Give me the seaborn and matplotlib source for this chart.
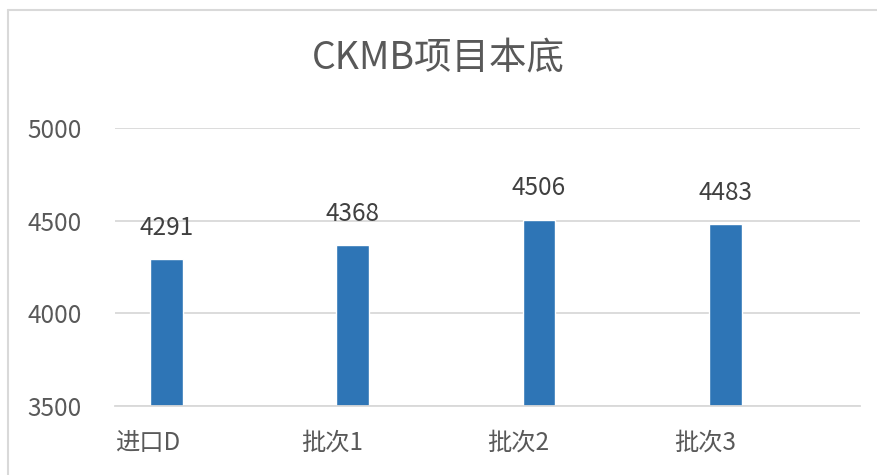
import matplotlib
matplotlib.use("Agg")
import matplotlib.pyplot as plt
from matplotlib.lines import Line2D
import pandas as pd
import seaborn as sns

sns.set_style("white")
plt.rcParams['font.family'] = ['Noto Sans CJK SC', 'DejaVu Sans']

categories = ["进口D", "批次1", "批次2", "批次3"]
values = [4291, 4368, 4506, 4483]
y_ticks = [3500, 4000, 4500, 5000]

bar_color = "#2E75B6"
text_color = "#595959"
grid_color = "#D9D9D9"

df = pd.DataFrame({"batch": categories, "value": values})

fig = plt.figure(figsize=(8.77, 4.75), dpi=100)
ax = fig.add_axes([115 / 877, 1 - 406 / 475, 745 / 877, 278 / 475])

sns.barplot(x="batch", y="value", data=df, color=bar_color, width=0.177,
            saturation=1, ax=ax)

# bars sit at the left part of each category slot (Excel style)
offset = 0.2765
ax.set_xlim(-offset, len(categories) - offset)
ax.set_ylim(y_ticks[0], y_ticks[-1])
ax.set_yticks(y_ticks)
ax.set_xticks([i - offset for i in range(len(categories))])
ax.set_xticklabels(categories, ha="left")

ax.yaxis.grid(True, color=grid_color, linewidth=1.3)
ax.set_axisbelow(True)
for side in ["top", "left", "right"]:
  ax.spines[side].set_visible(False)
ax.spines["bottom"].set_color(grid_color)
ax.spines["bottom"].set_linewidth(1.3)

ax.tick_params(axis="y", length=0, pad=24, labelsize=17.5, labelcolor=text_color)
ax.tick_params(axis="x", length=0, pad=17, labelsize=17.5, labelcolor=text_color)
ax.set_xlabel("")
ax.set_ylabel("")

for i, v in enumerate(values):
  ax.annotate(str(v), xy=(i, v), xytext=(0, 13), textcoords="offset points",
              ha="center", va="bottom", fontsize=17.5, color="#404040")

fig.suptitle("CKMB项目本底", y=1 - 59 / 475, va="center", fontsize=27,
             color=text_color)

# chart frame (top and left edge visible in the reference)
fig.add_artist(Line2D([8 / 877, 1], [1 - 10 / 475, 1 - 10 / 475],
                      color=grid_color, linewidth=1.5, transform=fig.transFigure))
fig.add_artist(Line2D([8 / 877, 8 / 877], [0, 1 - 10 / 475],
                      color=grid_color, linewidth=1.5, transform=fig.transFigure))

fig.savefig("out.png", dpi=100)
